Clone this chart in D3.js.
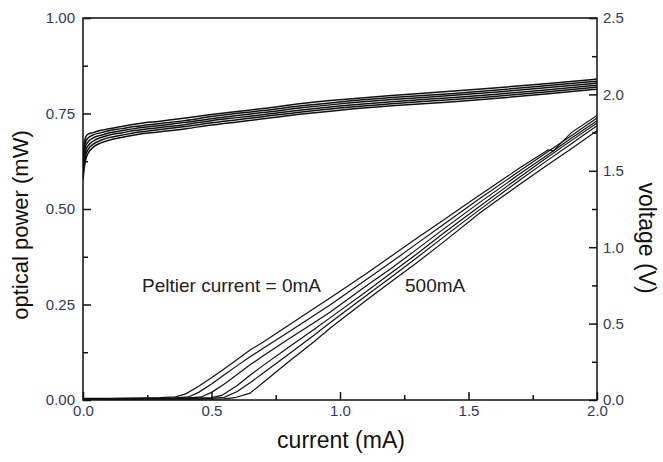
<!DOCTYPE html>
<html>
<head>
<meta charset="utf-8">
<script src="https://cdn.jsdelivr.net/npm/d3@7/dist/d3.min.js"></script>
<style>
  body { margin: 0; background: #fff; }
  svg { font-family: "Liberation Sans", Arial, sans-serif; }
</style>
</head>
<body>
<script>
// L-I curves, one per Peltier current (0mA ... 500mA), [current mA, power mW]
var power0 = [[0,0.004],[0.1,0.004],[0.2,0.005],[0.3,0.006],[0.36,0.008],[0.4,0.016],[0.45,0.036],[0.5,0.058],[0.55,0.082],[0.6,0.106],[0.65,0.131],[0.7,0.151],[0.8,0.196],[0.9,0.24],[0.961,0.267],[1.1,0.33],[1.2,0.377],[1.3,0.424],[1.4,0.47],[1.545,0.537],[1.6,0.562],[1.7,0.608],[1.78,0.642],[1.81,0.655],[1.83,0.652],[1.9,0.7],[2.0,0.745]];
var power1 = [[0,0.003],[0.2,0.004],[0.35,0.005],[0.41,0.008],[0.45,0.02],[0.5,0.042],[0.55,0.066],[0.6,0.09],[0.65,0.113],[0.7,0.135],[0.8,0.178],[0.9,0.222],[0.961,0.249],[1.1,0.314],[1.2,0.361],[1.3,0.41],[1.4,0.458],[1.545,0.528],[1.7,0.6],[1.8,0.646],[1.9,0.692],[2.0,0.738]];
var power2 = [[0,0.003],[0.2,0.003],[0.4,0.005],[0.46,0.008],[0.5,0.02],[0.55,0.042],[0.6,0.067],[0.65,0.092],[0.7,0.115],[0.8,0.16],[0.9,0.203],[0.961,0.23],[1.1,0.298],[1.2,0.345],[1.3,0.395],[1.4,0.446],[1.545,0.518],[1.7,0.592],[1.8,0.638],[1.9,0.685],[2.0,0.731]];
var power3 = [[0,0.002],[0.2,0.003],[0.4,0.004],[0.5,0.006],[0.54,0.012],[0.6,0.038],[0.65,0.065],[0.7,0.09],[0.8,0.138],[0.9,0.185],[0.961,0.215],[1.1,0.283],[1.2,0.333],[1.3,0.383],[1.4,0.435],[1.545,0.508],[1.7,0.584],[1.8,0.632],[1.9,0.679],[2.0,0.725]];
var power4 = [[0,0.002],[0.2,0.002],[0.4,0.003],[0.5,0.004],[0.55,0.007],[0.6,0.022],[0.65,0.045],[0.7,0.07],[0.8,0.12],[0.9,0.17],[0.961,0.202],[1.1,0.272],[1.2,0.322],[1.3,0.373],[1.4,0.425],[1.545,0.499],[1.7,0.576],[1.8,0.624],[1.9,0.671],[2.0,0.718]];
var power5 = [[0,0.002],[0.2,0.002],[0.4,0.002],[0.55,0.003],[0.59,0.006],[0.65,0.018],[0.7,0.045],[0.8,0.1],[0.9,0.153],[0.961,0.188],[1.1,0.26],[1.2,0.31],[1.3,0.36],[1.4,0.412],[1.545,0.49],[1.7,0.565],[1.8,0.612],[1.9,0.658],[2.0,0.705]];

// V-I curves share one current grid
var voltCurrent = [0,0.005,0.01,0.02,0.04,0.07,0.1,0.15,0.2,0.3,0.4,0.5,0.6,0.7,0.85,1.0,1.2,1.43,1.6,1.8,2.0];
var volt0 = [1.62,1.68,1.72,1.74,1.75,1.765,1.775,1.79,1.805,1.825,1.845,1.868,1.888,1.908,1.94,1.965,1.993,2.02,2.042,2.07,2.10];
var volt1 = [1.58,1.65,1.69,1.715,1.735,1.75,1.762,1.776,1.79,1.81,1.83,1.855,1.876,1.894,1.925,1.951,1.979,2.005,2.027,2.056,2.086];
var volt2 = [1.54,1.61,1.66,1.69,1.715,1.733,1.748,1.762,1.776,1.797,1.817,1.841,1.862,1.881,1.912,1.938,1.966,1.992,2.014,2.043,2.074];
var volt3 = [1.50,1.58,1.63,1.665,1.695,1.718,1.733,1.748,1.763,1.783,1.803,1.828,1.848,1.867,1.898,1.924,1.952,1.978,2.0,2.029,2.06];
var volt4 = [1.47,1.55,1.60,1.64,1.675,1.70,1.717,1.733,1.749,1.77,1.79,1.814,1.834,1.854,1.885,1.911,1.939,1.965,1.987,2.016,2.048];
var volt5 = [1.44,1.52,1.57,1.615,1.655,1.683,1.70,1.718,1.735,1.755,1.775,1.80,1.82,1.84,1.871,1.897,1.925,1.951,1.973,2.002,2.034];

var xTicks = [0, 0.5, 1.0, 1.5, 2.0];
var xMinor = [0.25, 0.75, 1.25, 1.75];
var powerTicks = [0, 0.25, 0.5, 0.75, 1.0];
var powerMinor = [0.125, 0.375, 0.625, 0.875];
var voltTicks = [0, 0.5, 1.0, 1.5, 2.0, 2.5];
var voltMinor = [0.25, 0.75, 1.25, 1.75, 2.25];

var powerCurves = [power0, power1, power2, power3, power4, power5];
var voltCurves = [volt0, volt1, volt2, volt3, volt4, volt5];

var w = 663, h = 462;
var padL = 83, padR = 597, padT = 18, padB = 400;
var labelColor = '#2f3a58';

var svg = d3.select('body').append('svg')
    .attr('width', w)
    .attr('height', h);

var x = d3.scaleLinear().domain([0, 2]).range([padL, padR]);
var yP = d3.scaleLinear().domain([0, 1]).range([padB, padT]);
var yV = d3.scaleLinear().domain([0, 2.5]).range([padB, padT]);

// curves
svg.append('clipPath').attr('id', 'clip')
    .append('rect').attr('x', padL).attr('y', padT - 4)
    .attr('width', padR - padL + 6).attr('height', padB - padT + 4);

var plot = svg.append('g').attr('clip-path', 'url(#clip)');

var powerLine = d3.line()
    .x(function(d) { return x(d[0]); })
    .y(function(d) { return yP(d[1]); });

plot.selectAll('path.power')
    .data(powerCurves)
    .enter()
    .append('path')
    .attr('class', 'power')
    .attr('d', powerLine)
    .attr('fill', 'none')
    .attr('stroke', '#111')
    .attr('stroke-width', 1.2);

var voltLine = d3.line()
    .curve(d3.curveMonotoneX)
    .x(function(d, i) { return x(voltCurrent[i]); })
    .y(function(d) { return yV(d); });

plot.selectAll('path.volt')
    .data(voltCurves)
    .enter()
    .append('path')
    .attr('class', 'volt')
    .attr('d', voltLine)
    .attr('fill', 'none')
    .attr('stroke', '#111')
    .attr('stroke-width', 1.5);

// frame
svg.append('rect')
    .attr('x', padL).attr('y', padT)
    .attr('width', padR - padL).attr('height', padB - padT)
    .attr('fill', 'none')
    .attr('stroke', '#111')
    .attr('stroke-width', 1.5);

function styleAxis(g) {
    g.select('.domain').remove();
    g.selectAll('.tick line').attr('stroke', '#111').attr('stroke-width', 1.5);
    g.selectAll('.tick text')
        .attr('fill', labelColor)
        .style('font-size', '15px')
        .style('font-family', '"Liberation Sans", Arial, sans-serif');
}

// bottom
svg.append('g')
    .attr('transform', 'translate(0,' + padB + ')')
    .call(d3.axisBottom(x).tickValues(xTicks).tickSizeInner(-8).tickSizeOuter(0)
        .tickPadding(5).tickFormat(d3.format('.1f')))
    .call(styleAxis);
svg.append('g')
    .attr('transform', 'translate(0,' + padB + ')')
    .call(d3.axisBottom(x).tickValues(xMinor).tickSizeInner(-5).tickSizeOuter(0).tickFormat(''))
    .call(styleAxis);

// left
svg.append('g')
    .attr('transform', 'translate(' + padL + ',0)')
    .call(d3.axisLeft(yP).tickValues(powerTicks).tickSizeInner(-8).tickSizeOuter(0)
        .tickPadding(8).tickFormat(d3.format('.2f')))
    .call(styleAxis);
svg.append('g')
    .attr('transform', 'translate(' + padL + ',0)')
    .call(d3.axisLeft(yP).tickValues(powerMinor).tickSizeInner(-5).tickSizeOuter(0).tickFormat(''))
    .call(styleAxis);

// right
svg.append('g')
    .attr('transform', 'translate(' + padR + ',0)')
    .call(d3.axisRight(yV).tickValues(voltTicks).tickSizeInner(-8).tickSizeOuter(0)
        .tickPadding(6).tickFormat(d3.format('.1f')))
    .call(styleAxis);
svg.append('g')
    .attr('transform', 'translate(' + padR + ',0)')
    .call(d3.axisRight(yV).tickValues(voltMinor).tickSizeInner(-5).tickSizeOuter(0).tickFormat(''))
    .call(styleAxis);

// axis titles
svg.append('text')
    .attr('x', 341).attr('y', 448)
    .attr('text-anchor', 'middle')
    .style('font-size', '23px')
    .attr('fill', '#111')
    .text('current (mA)');

svg.append('text')
    .attr('transform', 'translate(28,225) rotate(-90)')
    .attr('text-anchor', 'middle')
    .style('font-size', '22px')
    .attr('fill', '#111')
    .text('optical power (mW)');

svg.append('text')
    .attr('transform', 'translate(639,238) rotate(90)')
    .attr('text-anchor', 'middle')
    .style('font-size', '23px')
    .attr('fill', '#111')
    .text('voltage (V)');

// annotations
svg.append('text')
    .attr('x', 142).attr('y', 292)
    .style('font-size', '19px')
    .attr('fill', '#222')
    .text('Peltier current = 0mA');
svg.append('text')
    .attr('x', 405).attr('y', 292)
    .style('font-size', '19px')
    .attr('fill', '#222')
    .text('500mA');
</script>
</body>
</html>
